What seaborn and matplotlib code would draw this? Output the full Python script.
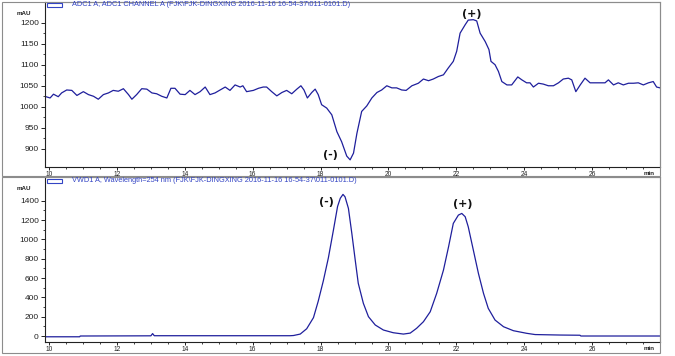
import numpy as np
import pandas as pd
import matplotlib
matplotlib.use("Agg")
import matplotlib.pyplot as plt
from matplotlib.patches import Rectangle
from matplotlib.ticker import MultipleLocator, FixedLocator
import seaborn as sns

# ADC1 channel A trace (top panel), minutes / mAU
adc_time = [9.91, 10.03, 10.13, 10.27, 10.37, 10.52, 10.67, 10.82, 11.01, 11.16,
            11.31, 11.45, 11.60, 11.75, 11.89, 12.04, 12.19, 12.34, 12.44, 12.58,
            12.73, 12.88, 13.03, 13.17, 13.32, 13.47, 13.59, 13.71, 13.86, 14.01,
            14.15, 14.30, 14.45, 14.60, 14.74, 14.89, 15.04, 15.19, 15.33, 15.48,
            15.63, 15.71, 15.82, 16.02, 16.17, 16.31, 16.41, 16.56, 16.71, 16.86,
            17.00, 17.15, 17.30, 17.42, 17.51, 17.61, 17.74, 17.84, 17.93, 18.03,
            18.18, 18.33, 18.48, 18.62, 18.77, 18.87, 18.97, 19.07, 19.21, 19.36,
            19.51, 19.66, 19.80, 19.95, 20.10, 20.24, 20.39, 20.52, 20.69, 20.88,
            21.03, 21.18, 21.32, 21.47, 21.62, 21.76, 21.91, 22.01, 22.11, 22.26,
            22.35, 22.50, 22.60, 22.70, 22.85, 22.96, 23.02, 23.14, 23.24, 23.34,
            23.49, 23.63, 23.81, 23.93, 24.07, 24.17, 24.27, 24.42, 24.56, 24.71,
            24.86, 25.01, 25.15, 25.30, 25.40, 25.52, 25.65, 25.79, 25.94, 26.09,
            26.23, 26.38, 26.48, 26.63, 26.77, 26.92, 27.07, 27.22, 27.36, 27.51,
            27.66, 27.80, 27.90, 28.00]
adc_mau = [1024, 1021, 1030, 1024, 1033, 1040, 1039, 1027, 1036, 1029,
           1025, 1018, 1029, 1033, 1039, 1037, 1043, 1029, 1018, 1029,
           1043, 1042, 1033, 1031, 1025, 1021, 1044, 1044, 1030, 1029,
           1039, 1029, 1036, 1047, 1029, 1033, 1040, 1047, 1039, 1052,
           1047, 1050, 1036, 1039, 1044, 1047, 1047, 1036, 1026, 1034,
           1039, 1031, 1042, 1050, 1040, 1021, 1034, 1042, 1029, 1005,
           997, 981, 941, 917, 883, 874, 890, 937, 989, 1002,
           1021, 1034, 1040, 1050, 1045, 1045, 1040, 1039, 1050, 1056,
           1066, 1062, 1066, 1072, 1076, 1092, 1108, 1132, 1175, 1195,
           1206, 1207, 1204, 1175, 1155, 1136, 1108, 1100, 1084, 1060,
           1052, 1052, 1071, 1064, 1057, 1057, 1047, 1056, 1054, 1050,
           1050, 1057, 1066, 1068, 1064, 1036, 1052, 1068, 1057, 1057,
           1057, 1057, 1064, 1052, 1057, 1052, 1056, 1056, 1057, 1052,
           1057, 1060, 1047, 1045]

# VWD1 254 nm trace (bottom panel)
vwd_time = [9.88, 10.90, 10.92, 13.00, 13.05, 13.10, 17.10, 17.20, 17.40, 17.59,
            17.79, 17.93, 18.08, 18.23, 18.38, 18.50, 18.58, 18.66, 18.72, 18.82,
            18.92, 19.02, 19.11, 19.26, 19.41, 19.61, 19.85, 20.14, 20.44, 20.64,
            20.83, 21.03, 21.23, 21.42, 21.62, 21.77, 21.91, 22.06, 22.16, 22.26,
            22.35, 22.50, 22.65, 22.80, 22.94, 23.14, 23.39, 23.68, 24.07, 24.32,
            25.06, 25.64, 25.67, 28.00]
vwd_mau = [-8, -8, 0, 2, 25, 3, 3, 5, 20, 75,
           190, 360, 570, 810, 1100, 1340, 1425, 1465, 1440, 1320,
           1062, 786, 545, 338, 200, 114, 62, 34, 20, 30,
           80, 148, 251, 441, 682, 923, 1165, 1251, 1268, 1234,
           1130, 889, 648, 441, 286, 165, 96, 55, 28, 15,
           10, 8, 0, 0]

adc_ticks = [900, 950, 1000, 1050, 1100, 1150, 1200]
vwd_ticks = [0, 200, 400, 600, 800, 1000, 1200, 1400]
time_ticks = [10, 12, 14, 16, 18, 20, 22, 24, 26]

adc_title = r"ADC1 A, ADC1 CHANNEL A (FJK\FJK-DINGXING 2016-11-16 16-54-37\011-0101.D)"
vwd_title = r"VWD1 A, Wavelength=254 nm (FJK\FJK-DINGXING 2016-11-16 16-54-37\011-0101.D)"

W, H = 675, 356
LINE = "#1f1f9c"
HEAD = "#3344c4"
FRAME = "#8c8c8c"

sns.set_style("ticks")
plt.rcParams['font.family'] = ['Liberation Sans', 'DejaVu Sans']


def fx(px):
    return px / W


def fy(py):
    return 1 - py / H


fig = plt.figure(figsize=(W / 100, H / 100), dpi=100)
ax1 = fig.add_axes([fx(45), fy(167), fx(615), 165 / H])
ax2 = fig.add_axes([fx(45), fy(342), fx(615), 165 / H])

top = pd.DataFrame({"time": adc_time, "mAU": adc_mau})
bot = pd.DataFrame({"time": vwd_time, "mAU": vwd_mau})
sns.lineplot(data=top, x="time", y="mAU", ax=ax1, color=LINE, lw=0.9,
             estimator=None, sort=False)
sns.lineplot(data=bot, x="time", y="mAU", ax=ax2, color=LINE, lw=0.9,
             estimator=None, sort=False)

ax1.set_ylim(857, 1249)
ax1.yaxis.set_major_locator(FixedLocator(adc_ticks))
ax1.yaxis.set_minor_locator(FixedLocator([t + 25 for t in adc_ticks[:-1]]))
ax2.set_ylim(-62, 1645)
ax2.yaxis.set_major_locator(FixedLocator(vwd_ticks))
ax2.yaxis.set_minor_locator(FixedLocator([t + 100 for t in vwd_ticks[:-1]]))

for ax in (ax1, ax2):
    ax.set_xlim(9.88, 28.0)
    ax.set_xlabel("")
    ax.set_ylabel("")
    ax.xaxis.set_major_locator(FixedLocator(time_ticks))
    ax.xaxis.set_minor_locator(MultipleLocator(0.5))
    ax.tick_params(axis="y", which="major", length=3, width=0.7, pad=1.5,
                   labelsize=6, colors="#222222")
    ax.tick_params(axis="x", which="major", length=2.5, width=0.7, pad=0.5,
                   labelsize=4.8, colors="#222222")
    ax.tick_params(which="minor", length=1.5, width=0.6, colors="#222222")
    for s in ("left", "bottom"):
        ax.spines[s].set_color("#222222")
        ax.spines[s].set_linewidth(0.8)
    for s in ("top", "right"):
        ax.spines[s].set_visible(True)
        ax.spines[s].set_color(FRAME)
        ax.spines[s].set_linewidth(0.8)
    ax.text(0.982, -0.04, "min", transform=ax.transAxes, fontsize=4.5,
            fontweight="bold", ha="center", va="center", color="#222222")
    ax.text(-0.035, 0.93, "mAU", transform=ax.transAxes, fontsize=4.5,
            fontweight="bold", ha="center", va="center", color="#222222")

# panel frames and header boxes
for y0, y1, y_head, title in ((2, 176, 5, adc_title), (177, 353, 181, vwd_title)):
    fig.patches.append(Rectangle((fx(2), fy(y1)), fx(658), (y1 - y0) / H,
                                 transform=fig.transFigure, fill=False,
                                 ec=FRAME, lw=0.8))
    fig.patches.append(Rectangle((fx(47), fy(y_head + 2)), fx(15), 4 / H,
                                 transform=fig.transFigure, fill=False,
                                 ec=HEAD, lw=0.8))
    fig.text(fx(72), fy(y_head), title, fontsize=5.3, color=HEAD,
             ha="left", va="center")

# peak labels
lab = dict(fontsize=8, fontweight="bold", ha="center", va="center",
           color="#111111", family=["DejaVu Sans"])
ax1.text(18.28, 886, "(-)", **lab)
ax1.text(22.45, 1221, "(+)", **lab)
ax2.text(18.16, 1389, "(-)", **lab)
ax2.text(22.20, 1365, "(+)", **lab)

fig.savefig("out.png", dpi=100, facecolor="white")
